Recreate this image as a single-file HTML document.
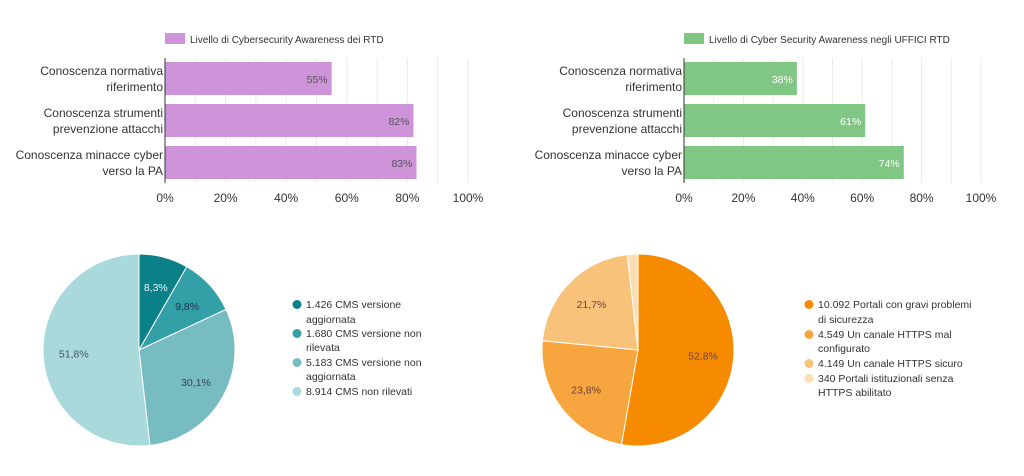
<!DOCTYPE html>
<html><head><meta charset="utf-8"><style>
body{margin:0;background:#fff;width:1024px;height:471px;overflow:hidden;font-family:"Liberation Sans",sans-serif}
svg text{font-family:"Liberation Sans",sans-serif}
</style></head><body>
<svg id="s" width="1024" height="471"></svg>
<script>
const barCats=[["Conoscenza normativa","riferimento"],["Conoscenza strumenti","prevenzione attacchi"],["Conoscenza minacce cyber","verso la PA"]];
const rtdValues=[55,82,83];
const officeValues=[38,61,74];
const xTicks=[0,20,40,60,80,100];
const cmsLabels=[["1.426 CMS versione","aggiornata"],["1.680 CMS versione non","rilevata"],["5.183 CMS versione non","aggiornata"],["8.914 CMS non rilevati"]];
const cmsValues=[1426,1680,5183,8914];
const cmsPct=["8,3%","9,8%","30,1%","51,8%"];
const httpsLabels=[["10.092 Portali con gravi problemi","di sicurezza"],["4.549 Un canale HTTPS mal","configurato"],["4.149 Un canale HTTPS sicuro"],["340 Portali istituzionali senza","HTTPS abilitato"]];
const httpsValues=[10092,4549,4149,340];
const httpsPct=["52,8%","23,8%","21,7%",""];

const svg=document.getElementById('s');
const NS='http://www.w3.org/2000/svg';
function mk(t,a,p){const e=document.createElementNS(NS,t);for(const k in a)e.setAttribute(k,a[k]);(p||svg).appendChild(e);return e;}
function txt(x,y,s,a,p){const e=mk('text',Object.assign({x:x,y:y},a),p);e.textContent=s;return e;}

function barChart(x0,x100,vals,color,labelColor,legend,name){
  const g=mk('g',{});
  
  
  const sx=v=>x0+(x100-x0)*v/100;
  for(let v=10;v<=100;v+=10){const gl=mk('line',{x1:sx(v),x2:sx(v),y1:58,y2:183,stroke:'#ebebeb','stroke-width':1},g);
    }
  const lg=mk('g',{},g);
  
  mk('rect',{x:x0,y:33,width:20,height:11,fill:color},lg);
  txt(x0+25,43,legend,{'font-size':10,fill:'#333'},lg);
  const tops=[62,104,146],h=33;
  vals.forEach((v,i)=>{
    const b=mk('rect',{x:x0,y:tops[i],width:sx(v)-x0,height:h,fill:color},g);
    
    const t=txt(sx(v)-4,tops[i]+21,v+'%',{'font-size':10.5,fill:labelColor,'text-anchor':'end'},g);
    
    const c=barCats[i];
    const l=txt(x0-2,tops[i]+13,c[0],{'font-size':12,fill:'#333','text-anchor':'end'},g);
    
    txt(x0-2,tops[i]+29,c[1],{'font-size':12,fill:'#333','text-anchor':'end'},g);
  });
  const ax=mk('line',{x1:x0,x2:x0,y1:58,y2:183,stroke:'#333','stroke-width':1},g);
  
  xTicks.forEach(v=>{const t=txt(sx(v),202,v+'%',{'font-size':12,fill:'#333','text-anchor':'middle'},g);
    });
}
barChart(165,468,rtdValues,'#ce93d8','#555','Livello di Cybersecurity Awareness dei RTD','rtd-bar-chart');
barChart(684,981,officeValues,'#81c784','#fff','Livello di Cyber Security Awareness negli UFFICI RTD','offices-bar-chart');

function pie(cx,cy,r,vals,pcts,colors,pctColors,labels,lx,lys,name){
  const g=mk('g',{});
  
  const tot=vals.reduce((a,b)=>a+b,0);let a0=0;
  vals.forEach((v,i)=>{
    const a1=a0+v/tot*2*Math.PI;
    const p=(a)=>[cx+r*Math.sin(a),cy-r*Math.cos(a)];
    const [x1,y1]=p(a0),[x2,y2]=p(a1);
    const s=mk('path',{d:`M${cx},${cy}L${x1},${y1}A${r},${r} 0 ${a1-a0>Math.PI?1:0} 1 ${x2},${y2}Z`,fill:colors[i],stroke:'#fff','stroke-width':1},g);
    
    if(pcts[i]){const m=(a0+a1)/2;const t=txt(cx+r*0.68*Math.sin(m),cy-r*0.68*Math.cos(m)+4,pcts[i],{'font-size':10.5,fill:pctColors[i],'text-anchor':'middle'},g);
      }
    a0=a1;
  });
  let k=0;
  labels.forEach((lab,i)=>{
    const le=mk('g',{},g);
    
    mk('circle',{cx:lx,cy:lys[k]-3.5,r:4.5,fill:colors[i]},le);
    lab.forEach(line=>{txt(lx+9,lys[k],line,{'font-size':10.5,fill:'#333'},le);k++;});
  });
}
pie(139,350,96,cmsValues,cmsPct,['#0a8089','#33a0a7','#76bcc1','#aad9dc'],['#e8f6f7','#235','#345','#456'],cmsLabels,297,[308,323,337,351,366,380,395],'cms-pie-chart');
pie(638,350,96,httpsValues,httpsPct,['#f68b00','#f7a53e','#f9c27a','#fbdfb4'],['#644','#644','#644','#644'],httpsLabels,809,[308,323,338,352,367,382,396],'https-pie-chart');
</script>
</body></html>
